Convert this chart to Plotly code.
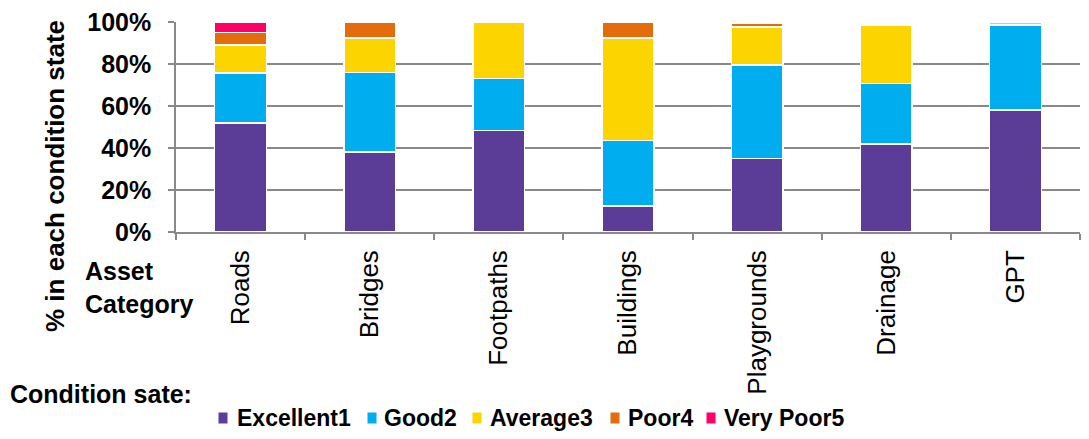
import plotly.graph_objects as go

# Asset categories and the share (%) of each in every condition state
categories = ["Roads", "Bridges", "Footpaths", "Buildings", "Playgrounds", "Drainage", "GPT"]
excellent = [52.0, 38.0, 48.3, 12.5, 35.0, 42.0, 58.0]
good = [23.8, 38.0, 24.9, 31.0, 44.5, 28.6, 40.5]
average = [13.2, 16.5, 26.8, 49.0, 18.2, 28.0, 1.5]
poor = [5.9, 7.5, 0.0, 7.5, 1.8, 0.0, 0.0]
very_poor = [5.1, 0.0, 0.0, 0.0, 0.0, 0.0, 0.0]

series_names = ["Excellent1", "Good2", "Average3", "Poor4", "Very Poor5"]
series_values = [excellent, good, average, poor, very_poor]
series_colors = ["#5B3D98", "#00ADEE", "#FCD500", "#E46C0A", "#FF0066"]

y_tick_values = [0, 20, 40, 60, 80, 100]
y_tick_labels = ["0%", "20%", "40%", "60%", "80%", "100%"]

FONT = "Liberation Sans, Arial, sans-serif"
GRID = "#898989"

fig = go.Figure()
for name, vals, color in zip(series_names, series_values, series_colors):
    fig.add_trace(go.Bar(
        name=name,
        x=categories,
        y=vals,
        showlegend=False,
        marker=dict(color=color, line=dict(color="white", width=1.5)),
    ))

# Plot-area pixel frame used to place the free-standing labels
W, H = 1089, 439
L, R, T, B = 176, 9, 22, 207
pw, ph = W - L - R, H - T - B


def px_x(x):
    return (x - L) / pw


def px_y(y):
    return (H - B - y) / ph


# Key row: small coloured block, then the series name beside it
key_block_centre = [222.5, 371.5, 477, 615, 711]
key_text_left = [235, 382, 488, 626, 722]
key_row_y = 418
key_annotations = []
for name, color, bx, tx in zip(series_names, series_colors, key_block_centre, key_text_left):
    key_annotations.append(dict(
        text=" ",
        xref="paper", yref="paper",
        x=px_x(bx), y=px_y(key_row_y),
        xanchor="center", yanchor="middle",
        width=8, height=10, borderpad=0,
        bgcolor=color, showarrow=False,
        font=dict(size=6),
    ))
    key_annotations.append(dict(
        text=name,
        xref="paper", yref="paper",
        x=px_x(tx), y=px_y(key_row_y),
        xanchor="left", yanchor="middle",
        showarrow=False,
        font=dict(family=FONT, size=23, color="black", weight="bold"),
    ))

fig.update_layout(
    width=W,
    height=H,
    barmode="stack",
    bargap=0.6,
    margin=dict(l=L, r=R, t=T, b=B, pad=0),
    plot_bgcolor="white",
    paper_bgcolor="white",
    font=dict(family=FONT, color="black", size=24),
    showlegend=False,
    xaxis=dict(
        type="category",
        automargin=False,
        tickangle=-90,
        tickson="boundaries",
        ticks="outside",
        ticklen=6,
        tickcolor=GRID,
        tickwidth=1.5,
        ticklabelstandoff=6,
        showline=True,
        linecolor=GRID,
        linewidth=1.5,
        showgrid=False,
        tickfont=dict(family=FONT, size=26, color="black"),
    ),
    yaxis=dict(
        automargin=False,
        range=[0, 100],
        tickvals=y_tick_values,
        ticktext=y_tick_labels,
        ticks="outside",
        ticklen=6,
        tickcolor=GRID,
        tickwidth=1.5,
        ticklabelstandoff=12,
        showline=True,
        linecolor=GRID,
        linewidth=1.5,
        showgrid=True,
        gridcolor=GRID,
        gridwidth=1.5,
        zeroline=False,
        tickfont=dict(family=FONT, size=25, color="black", weight="bold"),
    ),
    annotations=[
        dict(
            text="% in each condition state",
            xref="paper", yref="paper",
            x=px_x(55), y=px_y(176),
            xanchor="center", yanchor="middle",
            textangle=-90, showarrow=False,
            font=dict(family=FONT, size=26, color="black", weight="bold"),
        ),
        dict(
            text="Asset<br>Category",
            xref="paper", yref="paper",
            x=px_x(83), y=px_y(255),
            xanchor="left", yanchor="top", align="left",
            showarrow=False,
            font=dict(family=FONT, size=25, color="black", weight="bold"),
        ),
        dict(
            text="Condition sate:",
            xref="paper", yref="paper",
            x=px_x(8), y=px_y(394),
            xanchor="left", yanchor="middle", align="left",
            showarrow=False,
            font=dict(family=FONT, size=25, color="black", weight="bold"),
        ),
    ] + key_annotations,
)

fig.write_html("out.html")
